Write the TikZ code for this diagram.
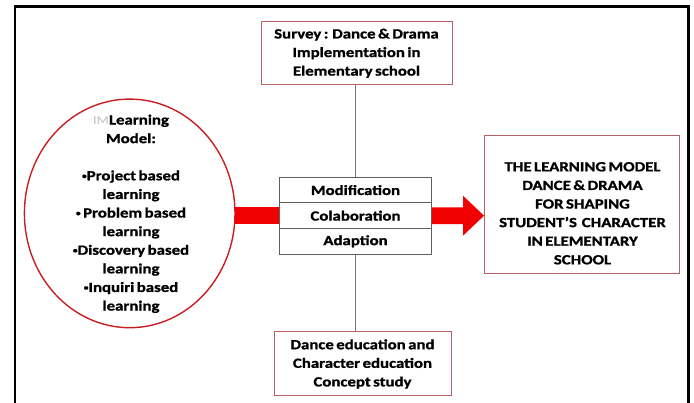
\documentclass[tikz,border=0pt]{standalone}
\usepackage{fontspec}
\setmainfont[FakeStretch=1.2,WordSpace=0.65,BoldFeatures={FakeBold=1.2}]{Carlito}
\usetikzlibrary{calc}
\definecolor{boxred}{RGB}{185,95,105}
\definecolor{ellred}{RGB}{200,30,35}
\definecolor{arrowred}{RGB}{240,0,0}
\definecolor{stackgray}{RGB}{95,95,95}
\definecolor{linegray}{RGB}{120,120,120}
\newcommand{\smallbul}{\raisebox{0.25ex}{\fontsize{8}{8}\selectfont\textbullet}}
\begin{document}
\begin{tikzpicture}[x=1pt,y=1pt,
  txt/.style={align=center,font=\fontsize{14}{18.6}\selectfont\bfseries,inner sep=0pt},
  redbox/.style={draw=boxred,line width=1pt,fill=white,inner sep=0pt},
  stackrow/.style={draw=stackgray,line width=1pt,fill=white,minimum width=152.4pt,minimum height=25.6pt,inner sep=0pt,font=\fontsize{14}{18.6}\selectfont\bfseries},
  conn/.style={draw=linegray,line width=0.9pt}]
\useasboundingbox (0,0) rectangle (694,403);
% frame
\draw[line width=2.6pt] (15,0) -- (15,396.3) -- (688.3,396.3) -- (688.3,0);
% top box
\node[redbox,minimum width=191pt,minimum height=63pt] (top) at (356.5,349.5) {};
\node[txt] (toptxt) at (356.5,349.7) {Survey : Dance \& Drama\\Implementation in\\Elementary school};
% bottom box
\node[redbox,minimum width=177pt,minimum height=64pt] (bot) at (362.5,39) {};
\node[txt] (bottxt) at (362.5,39) {Dance education and\\Character education\\Concept study};
% right box
\node[redbox,minimum width=194.5pt,minimum height=137.6pt] (rbox) at (581.75,198.5) {};
\node[txt] (rtxt) at (582.5,189.7) {THE LEARNING MODEL\\DANCE \& DRAMA\\FOR SHAPING\\STUDENT’S\, CHARACTER\\IN ELEMENTARY\\SCHOOL};
% stack
\node[stackrow] (mod) at (355.5,212.9) {Modification};
\node[stackrow] (col) at (355.5,187.3) {Colaboration};
\node[stackrow] (ada) at (355.5,161.7) {Adaption};
% connectors
\draw[conn] (mod.north) -- (mod.north |- top.south);
\draw[conn] (ada.south) -- (ada.south |- bot.north);
% ellipse
\draw[ellred,line width=1.4pt] (129.7,189.6) ellipse [x radius=105.3, y radius=114.3];
\coordinate (ellE) at (235,189.6);
\node[txt] (etxt) at (131,189.2) {{\color{gray!50}\mdseries\fontsize{12}{12}\selectfont IM}Learning\\Model:\\[18.6pt]\smallbul Project based\\learning\\\smallbul\ Problem based\\learning\\\smallbul Discovery based\\learning\\\smallbul Inquiri based\\learning};
% red bar
\fill[arrowred] ($(col.west -| ellE)+(0,8.5)$) rectangle ($(col.west)+(0,-8.5)$);
% red arrow
\coordinate (tip) at (rbox.west |- col.east);
\fill[arrowred] ($(col.east)+(0,8.4)$) -- ($(tip)+(-21,8.4)$) -- ($(tip)+(-21,20)$) -- (tip) -- ($(tip)+(-21,-20)$) -- ($(tip)+(-21,-8.4)$) -- ($(col.east)+(0,-8.4)$) -- cycle;
\end{tikzpicture}
\end{document}
